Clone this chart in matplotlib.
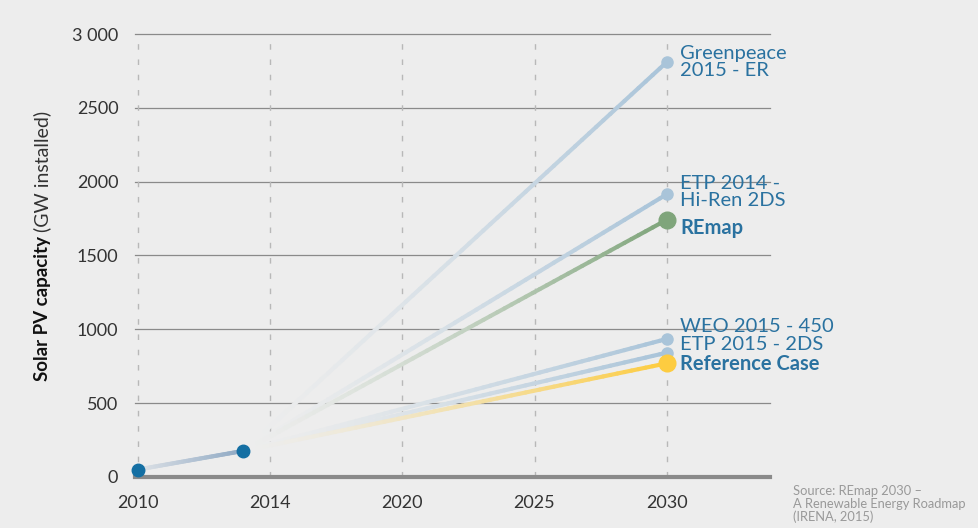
import matplotlib
matplotlib.use("Agg")
import matplotlib.pyplot as plt
import numpy as np
from matplotlib.collections import LineCollection
from matplotlib.colors import to_rgb

plt.rcParams['font.family'] = ['Lato', 'DejaVu Sans']

# historical points
hist_years = [2010, 2014]
hist_values = [50, 177]

# 2030 scenarios
scenarios = ['Greenpeace\n2015 - ER', 'ETP 2014 -\nHi-Ren 2DS', 'REmap',
             'WEO 2015 - 450', 'ETP 2015 - 2DS', 'Reference Case']
values_2030 = [2810, 1915, 1742, 935, 842, 770]
label_y = [2810, 1930, 1686, 1022, 894, 765]
bold = [False, False, True, False, False, True]
colors = ['#a9c4d9', '#a9c4d9', '#7fa57b', '#a9c4d9', '#a9c4d9', '#fdcc40']
sizes = [8, 8, 12, 8, 8, 12]

tick_pos = [2010, 2015, 2020, 2025, 2030]
tick_labels = ['2010', '2014', '2020', '2025', '2030']

BG = '#ededed'
LABEL = '#2a72a0'


def gradient_line(ax, x0, y0, x1, y1, color, lw, start_frac=0.0, power=1.5):
    # fade the colour into the background towards the start point
    n = 60
    xs = np.linspace(x0, x1, n + 1)
    ys = np.linspace(y0, y1, n + 1)
    segs = [[(xs[i], ys[i]), (xs[i + 1], ys[i + 1])] for i in range(n)]
    c = np.array(to_rgb(color))
    bg = np.array(to_rgb(BG))
    t = np.linspace(start_frac, 1, n) ** power
    cols = [bg + (c - bg) * ti for ti in t]
    ax.add_collection(LineCollection(segs, colors=cols, linewidths=lw,
                                     capstyle='round', zorder=3))


fig = plt.figure(figsize=(9.79, 5.28), dpi=100, facecolor=BG)
ax = fig.add_axes([0.1379, 0.0966, 0.6486, 0.839])
ax.set_facecolor(BG)
ax.set_xlim(2009.9, 2033.9)
ax.set_ylim(0, 3000)
for s in ax.spines.values():
    s.set_visible(False)

for yv in range(500, 3001, 500):
    ax.axhline(yv, color='#8a8a8a', lw=0.9, zorder=1, clip_on=False)
ax.axhline(0, color='#8a8a8a', lw=3, zorder=2, clip_on=False)
for xv in tick_pos:
    ax.axvline(xv, color='#b8b8b8', lw=1, ls=(0, (4, 7)), zorder=1)

ax.set_xticks(tick_pos)
ax.set_xticklabels(tick_labels)
ax.set_yticks(range(0, 3001, 500))
ax.set_yticklabels(['0', '500', '1000', '1500', '2000', '2500', '3 000'])
ax.tick_params(axis='both', length=0, labelsize=13, colors='#333333')
ax.tick_params(axis='x', pad=13)
ax.tick_params(axis='y', pad=12)

# 2010 -> 2014
gradient_line(ax, hist_years[0], hist_values[0], hist_years[1], hist_values[1],
              '#8fa9c4', 3, start_frac=0.15, power=1.0)

for i, name in enumerate(scenarios):
    gradient_line(ax, hist_years[1], hist_values[1], 2030, values_2030[i],
                  colors[i], 3)
    ax.plot(2030, values_2030[i], 'o', color=colors[i], ms=sizes[i],
            zorder=5, clip_on=False)
    ax.text(2030.5, label_y[i], name, color=LABEL, fontsize=14.5,
            fontweight='bold' if bold[i] else 'normal', va='center',
            ha='left', linespacing=0.98, zorder=6)

ax.plot(hist_years, hist_values, 'o', color='#146fa3', ms=9, zorder=6,
        clip_on=False)

# y label: bold part then normal part, stacked along the rotated axis
t1 = fig.text(0.043, 1 - 381 / 528, 'Solar PV capacity', rotation=90,
              fontsize=13.5, fontweight='bold', va='bottom', ha='center',
              color='#111111')
fig.canvas.draw()
bb = t1.get_window_extent()
fig.text(0.043, (bb.y1 + 4) / fig.bbox.height, '(GW installed)', rotation=90,
         fontsize=14, va='bottom', ha='center', color='#333333')

fig.text(0.81, 0.082, 'Source: REmap 2030 \u2013\nA Renewable Energy Roadmap\n(IRENA, 2015)',
         fontsize=9.3, color='#999999', va='top', ha='left', linespacing=1.1)

fig.savefig('out.png', dpi=100, facecolor=BG)
